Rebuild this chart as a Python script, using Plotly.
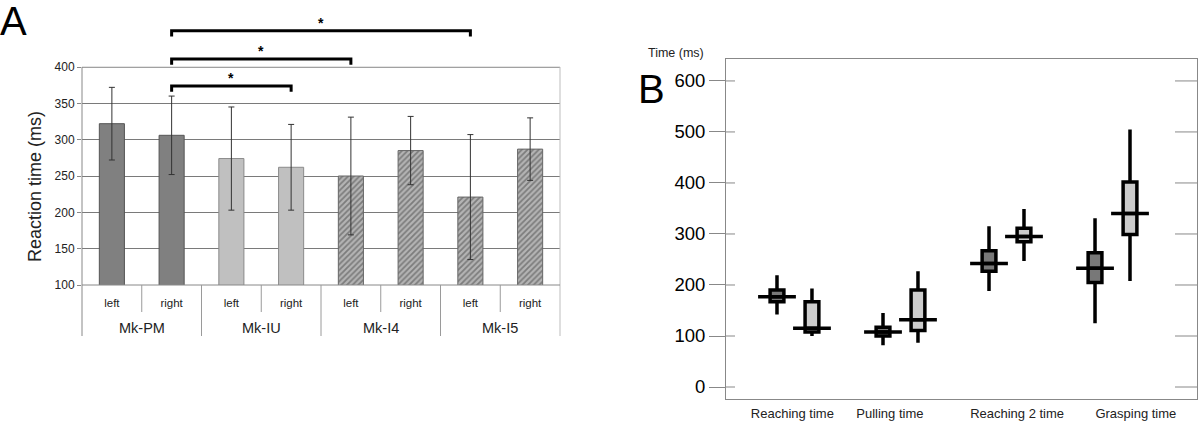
import plotly.graph_objects as go
import numpy as np

# ---------------- Panel A data ----------------
sides = ["left", "right", "left", "right", "left", "right", "left", "right"]
groups = ["Mk-PM", "Mk-IU", "Mk-I4", "Mk-I5"]
rt_mean = [322, 306, 274, 262, 250, 285, 221, 287]
rt_err = [50, 54, 71, 59, 81, 47, 86, 43]
sig_pairs = [(1, 3), (1, 4), (1, 6)]
sig_heights = [374, 411, 450]
a_ticks = [100, 150, 200, 250, 300, 350, 400]

# ---------------- Panel B data ----------------
phases = ["Reaching time", "Pulling time", "Reaching 2 time", "Grasping time"]
phase_label_pos = [-0.02, 0.90, 2.10, 3.22]
dark_lf = [142, 82, 188, 125]
dark_q1 = [167, 100, 227, 205]
dark_med = [177, 108, 242, 233]
dark_q3 = [190, 117, 267, 263]
dark_uf = [219, 145, 315, 331]
light_lf = [100, 87, 247, 208]
light_q1 = [108, 111, 285, 299]
light_med = [115, 132, 295, 340]
light_q3 = [167, 190, 311, 402]
light_uf = [193, 227, 349, 505]
b_ticks = [0, 100, 200, 300, 400, 500, 600]

FONT = "Liberation Sans, Arial, sans-serif"
W, H = 1200, 425

fig = go.Figure()

# ---- Panel A bars ----
xa = np.arange(len(rt_mean))
bar_colors = ["#808080", "#808080", "#c0c0c0", "#c0c0c0", "#b4b4b4", "#b4b4b4", "#b4b4b4", "#b4b4b4"]
bar_lines = ["#555555", "#555555", "#8a8a8a", "#8a8a8a", "#666666", "#666666", "#666666", "#666666"]
patterns = ["", "", "", "", "/", "/", "/", "/"]
fig.add_trace(go.Bar(
    x=xa, y=rt_mean, width=0.42,
    marker=dict(color=bar_colors, line=dict(color=bar_lines, width=1),
                pattern=dict(shape=patterns, fgcolor="#6e6e6e", bgcolor="#c4c4c4",
                             size=4, solidity=0.45, fillmode="overlay")),
    error_y=dict(type="data", array=rt_err, color="#333333", thickness=1, width=3),
    xaxis="x", yaxis="y", hoverinfo="skip"))

# ---- Panel B boxes ----
off = 0.165
xb = np.arange(len(phases))
for pos, lf, q1, med, q3, uf, col in [
        (xb - off, dark_lf, dark_q1, dark_med, dark_q3, dark_uf, "#787878"),
        (xb + off, light_lf, light_q1, light_med, light_q3, light_uf, "#cccccc")]:
    fig.add_trace(go.Box(
        x=pos, lowerfence=lf, q1=q1, median=med, q3=q3, upperfence=uf,
        width=0.13, whiskerwidth=0, fillcolor=col,
        line=dict(color="black", width=3.5), boxpoints=False,
        xaxis="x2", yaxis="y2", hoverinfo="skip"))
    fig.add_trace(go.Scatter(
        x=pos, y=med, mode="markers",
        marker=dict(symbol="line-ew", size=27, line=dict(color="black", width=3.5)),
        xaxis="x2", yaxis="y2", hoverinfo="skip"))

# ---- Panel A geometry helpers (decorations only) ----
A_TOP_PX, A_BOT_PX = 12.5, 285.0
def ydomA(px):
    return (A_BOT_PX - px) / (A_BOT_PX - A_TOP_PX)
def xdomA(boundary):
    return (boundary + 0.5) / len(rt_mean)
y400 = (400 - 100) / 375

shapes = []
shapes.append(dict(type="line", xref="x domain", yref="y domain", x0=0, x1=1, y0=y400, y1=y400,
                   line=dict(color="#c8c8c8", width=1)))
shapes.append(dict(type="line", xref="x domain", yref="y domain", x0=1, x1=1, y0=y400, y1=ydomA(336),
                   line=dict(color="#bdbdbd", width=1)))
shapes.append(dict(type="line", xref="x domain", yref="y domain", x0=0, x1=0, y0=y400, y1=ydomA(336),
                   line=dict(color="#888888", width=1)))
shapes.append(dict(type="line", xref="x domain", yref="y domain", x0=0, x1=1, y0=0, y1=0,
                   line=dict(color="#888888", width=1)))
for b in [0.5, 2.5, 4.5, 6.5]:
    shapes.append(dict(type="line", xref="x domain", yref="y domain", x0=xdomA(b), x1=xdomA(b),
                       y0=0, y1=ydomA(312), line=dict(color="#9a9a9a", width=1)))
for b in [1.5, 3.5, 5.5]:
    shapes.append(dict(type="line", xref="x domain", yref="y domain", x0=xdomA(b), x1=xdomA(b),
                       y0=0, y1=ydomA(336), line=dict(color="#9a9a9a", width=1)))
annotations = []
for (i0, i1), h in zip(sig_pairs, sig_heights):
    shapes.append(dict(type="path", xref="x", yref="y",
                       path=f"M {i0},{h-8} L {i0},{h} L {i1},{h} L {i1},{h-8}",
                       line=dict(color="black", width=3)))
    annotations.append(dict(x=(i0 + i1) / 2, y=h + 11, xref="x", yref="y", text="<b>*</b>",
                            xanchor="center", yanchor="middle",
                            showarrow=False, font=dict(size=14, color="black", family=FONT)))
for g, name in enumerate(groups):
    annotations.append(dict(x=2 * g + 0.5, y=(H - 328) / H, xref="x", yref="paper", text=name,
                            xanchor="center", yanchor="middle",
                            showarrow=False, font=dict(size=14.5, color="#222", family=FONT)))

B_L, B_R = 726, 1197
for t in b_ticks:
    shapes.append(dict(type="line", xref="x2 domain", yref="y2", x0=0, x1=9 / (B_R - B_L), y0=t, y1=t,
                       line=dict(color="#888888", width=1)))
    shapes.append(dict(type="line", xref="x2 domain", yref="y2", x0=(1175 - B_L) / (B_R - B_L), x1=1,
                       y0=t, y1=t, line=dict(color="#888888", width=1)))

annotations += [
    dict(x=13 / W, y=(H - 21) / H, xref="paper", yref="paper", text="A", showarrow=False,
         xanchor="center", yanchor="middle", font=dict(size=40, color="black", family=FONT)),
    dict(x=651 / W, y=(H - 89) / H, xref="paper", yref="paper", text="B", showarrow=False,
         xanchor="center", yanchor="middle", font=dict(size=40, color="black", family=FONT)),
    dict(x=676 / W, y=(H - 53) / H, xref="paper", yref="paper", text="Time (ms)", showarrow=False,
         xanchor="center", yanchor="middle", font=dict(size=12.5, color="#222", family=FONT)),
    dict(x=35 / W, y=(H - 187) / H, xref="paper", yref="paper", text="Reaction time (ms)",
         textangle=-90, showarrow=False, xanchor="center", yanchor="middle",
         font=dict(size=18, color="#222", family=FONT)),
]

fig.update_layout(
    template="none", width=W, height=H, margin=dict(l=0, r=0, t=0, b=0),
    paper_bgcolor="white", plot_bgcolor="white", showlegend=False, boxmode="overlay",
    font=dict(family=FONT, color="#222"),
    xaxis=dict(domain=[82 / W, 560 / W], range=[-0.5, 7.5], tickvals=list(xa), ticktext=sides,
               showgrid=False, zeroline=False, showline=False, ticks="outside", ticklen=7,
               tickcolor="rgba(0,0,0,0)", tickfont=dict(size=11.5, color="#222"), automargin=False,
               anchor="y"),
    yaxis=dict(domain=[(H - A_BOT_PX) / H, (H - A_TOP_PX) / H], range=[100, 475], tickvals=a_ticks,
               showgrid=True, gridcolor="#7a7a7a", gridwidth=1, zeroline=False, showline=False,
               ticks="outside", ticklen=4, tickcolor="#888", tickfont=dict(size=12, color="#222"),
               automargin=False, anchor="x"),
    xaxis2=dict(domain=[B_L / W, B_R / W], range=[-0.646, 3.797], tickvals=phase_label_pos,
                ticktext=phases, showgrid=False, zeroline=False, showline=True, mirror=True,
                linecolor="#888", linewidth=1, ticks="outside", ticklen=2, tickcolor="rgba(0,0,0,0)",
                tickfont=dict(size=13, color="#222"), automargin=False, anchor="y2"),
    yaxis2=dict(domain=[(H - 399) / H, (H - 59) / H], range=[-23.5, 643], tickvals=b_ticks,
                showgrid=False, zeroline=False, showline=True, mirror=True, linecolor="#888",
                linewidth=1, ticks="outside", ticklen=16, tickcolor="#888",
                tickfont=dict(size=18.5, color="black"), automargin=False, anchor="x2"),
    shapes=shapes, annotations=annotations,
)

fig.write_html("out.html", config={"displayModeBar": False},
               post_script="document.body.style.margin='0px';document.body.style.overflow='hidden';")
